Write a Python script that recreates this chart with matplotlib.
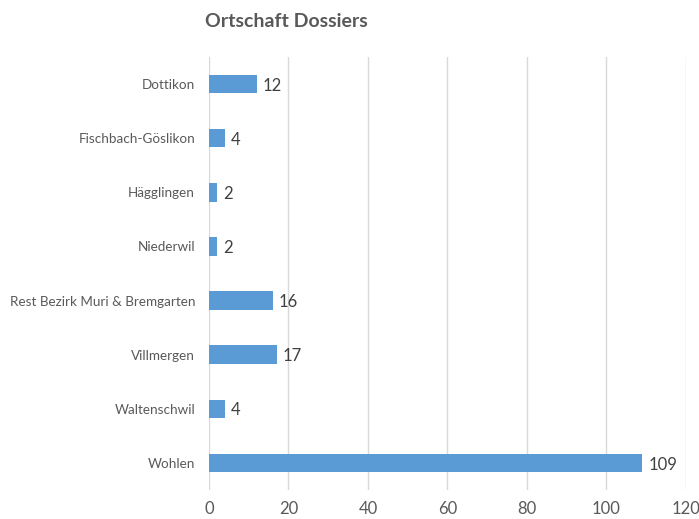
import matplotlib.pyplot as plt

orte = ['Dottikon', 'Fischbach-Göslikon', 'Hägglingen', 'Niederwil',
        'Rest Bezirk Muri & Bremgarten', 'Villmergen', 'Waltenschwil', 'Wohlen']
dossiers = [12, 4, 2, 2, 16, 17, 4, 109]
x_ticks = [0, 20, 40, 60, 80, 100, 120]

plt.rcParams['font.family'] = ['Lato', 'DejaVu Sans']
grau = '#595959'

fig = plt.figure(figsize=(6.99, 5.19), dpi=100)
ax = fig.add_axes([0.299, 0.056, 0.682, 0.834])

pos = list(range(len(orte)))
ax.barh(pos, dossiers, height=0.34, color='#5B9BD5', zorder=3)
for y, v in zip(pos, dossiers):
    ax.text(v + 1.6, y + 0.03, str(v), va='center', ha='left', fontsize=12, color='#404040')

ax.set_xlim(0, 120)
ax.set_ylim(len(orte) - 0.5, -0.5)
ax.set_yticks(pos)
ax.set_yticklabels(orte, fontsize=9.7, color=grau)
ax.set_xticks(x_ticks)
ax.set_xticklabels([str(t) for t in x_ticks], fontsize=12, color=grau)
ax.tick_params(length=0, pad=10)
ax.tick_params(axis='x', pad=8)
ax.grid(axis='x', color='#D9D9D9', linewidth=1, zorder=0)
for s in ax.spines.values():
    s.set_visible(False)

fig.text(0.293, 0.958, 'Ortschaft Dossiers', fontsize=14, fontweight='bold',
         color=grau, va='center', ha='left')

fig.savefig('out.png', dpi=100)
